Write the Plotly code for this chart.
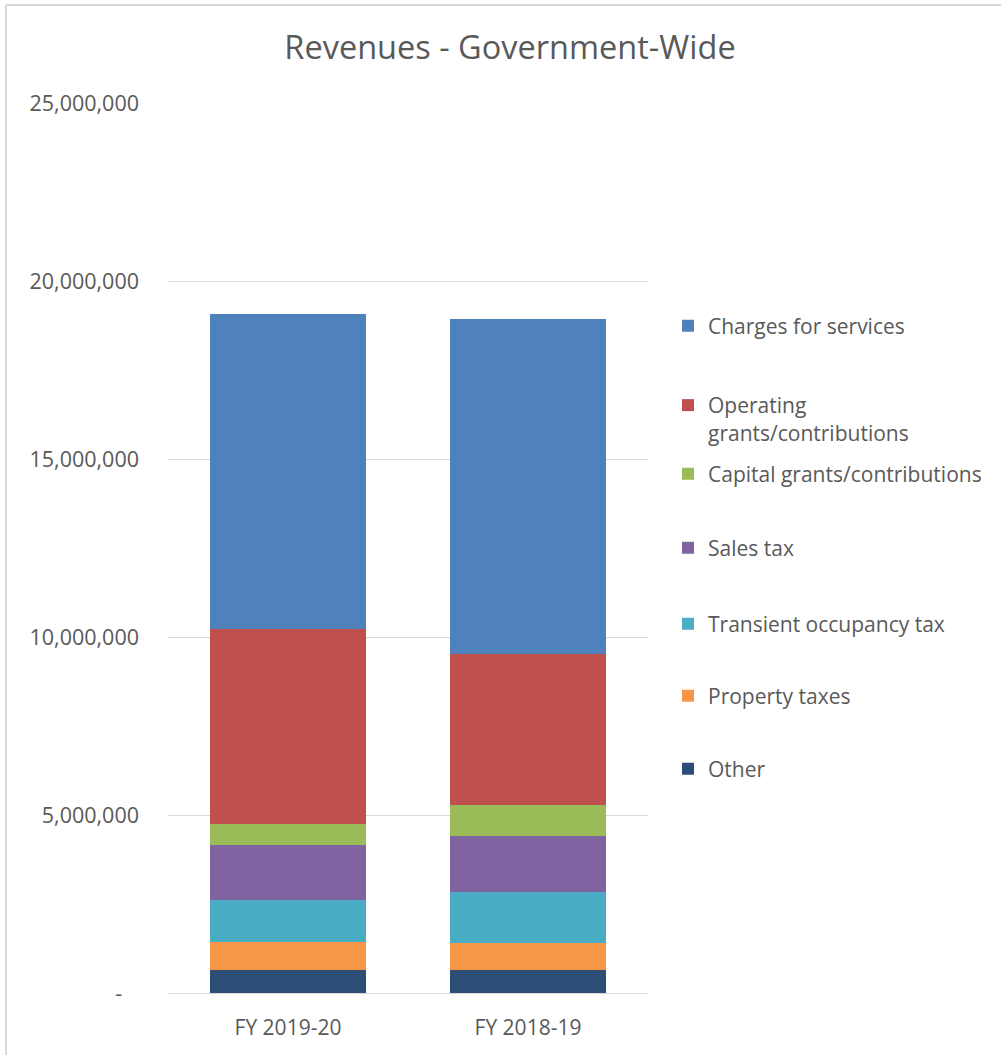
import plotly.graph_objects as go

categories = ["FY 2019-20", "FY 2018-19"]

# bottom-to-top stacking order
series_names = [
    "Other",
    "Property taxes",
    "Transient occupancy tax",
    "Sales tax",
    "Capital grants/contributions",
    "Operating<br>grants/contributions",
    "Charges for services",
]
other = [635000, 635000]
property_taxes = [800000, 760000]
transient_tax = [1190000, 1450000]
sales_tax = [1545000, 1570000]
capital_grants = [580000, 870000]
operating_grants = [5480000, 4240000]
charges_services = [8850000, 9400000]

series_values = [other, property_taxes, transient_tax, sales_tax,
                 capital_grants, operating_grants, charges_services]
colors = ["#2C4D75", "#F79646", "#4BACC6", "#8064A2", "#9BBB59", "#C0504D", "#4F81BD"]

tick_vals = [0, 5000000, 10000000, 15000000, 20000000, 25000000]
tick_text = ["-\u00a0\u00a0\u00a0", "5,000,000", "10,000,000", "15,000,000", "20,000,000", "25,000,000"]

# legend rows (text centre px of first line)
legend_tops = {
    "Charges for services": 328,
    "Operating<br>grants/contributions": 403,
    "Capital grants/contributions": 476,
    "Sales tax": 550,
    "Transient occupancy tax": 626,
    "Property taxes": 698,
    "Other": 771,
}

FONT = "Open Sans"
GRAY = "#595959"
W, H = 1001, 1055

fig = go.Figure()
layout_legends = {}
for i, (name, vals, col) in enumerate(zip(series_names, series_values, colors)):
    lname = "legend" if i == 0 else f"legend{i+1}"
    fig.add_trace(go.Bar(
        x=categories, y=vals, name=name, marker=dict(color=col, line=dict(width=0)),
        legend=lname, showlegend=True,
    ))
    two_line = "<br>" in name
    layout_legends[lname] = dict(
        xref="container", yref="container",
        x=668 / W,
        y=1 - (legend_tops[name] - 2) / H if not two_line else 1 - (legend_tops[name] - 18) / H,
        xanchor="left", yanchor="top" if two_line else "middle",
        valign="top",
        font=dict(family=FONT, size=21, color=GRAY),
        bgcolor="rgba(0,0,0,0)", itemwidth=30,
    )

fig.update_layout(
    barmode="stack",
    bargap=0.35,
    width=W, height=H,
    margin=dict(l=168, r=W - 648, t=103, b=H - 993),
    paper_bgcolor="white", plot_bgcolor="white",
    title=dict(text="Revenues - Government-Wide", xref="container", yref="container",
               x=510 / W, y=1 - 48 / H, xanchor="center", yanchor="middle",
               font=dict(family=FONT, size=32.5, color=GRAY)),
    xaxis=dict(showgrid=False, showline=False, ticks="", ticklabelstandoff=20,
               tickfont=dict(family=FONT, size=21, color=GRAY)),
    yaxis=dict(range=[0, 25000000], tickvals=tick_vals, ticktext=tick_text,
               showgrid=True, gridcolor="#D9D9D9", gridwidth=1,
               zeroline=True, zerolinecolor="#D9D9D9", zerolinewidth=1,
               showline=False, ticks="", ticklabelstandoff=28,
               tickfont=dict(family=FONT, size=21.5, color=GRAY)),
    **layout_legends,
    shapes=[
        dict(type="line", xref="paper", yref="paper",
             x0=(6 - 168) / 480, x1=(6 - 168) / 480, y0=(993 - 1055) / 890, y1=(993 - 5) / 890,
             line=dict(color="#D9D9D9", width=2)),
        dict(type="line", xref="paper", yref="paper",
             x0=(6 - 168) / 480, x1=(1001 - 168) / 480, y0=(993 - 5) / 890, y1=(993 - 5) / 890,
             line=dict(color="#D9D9D9", width=2)),
    ],
)

fig.write_html("out.html")
